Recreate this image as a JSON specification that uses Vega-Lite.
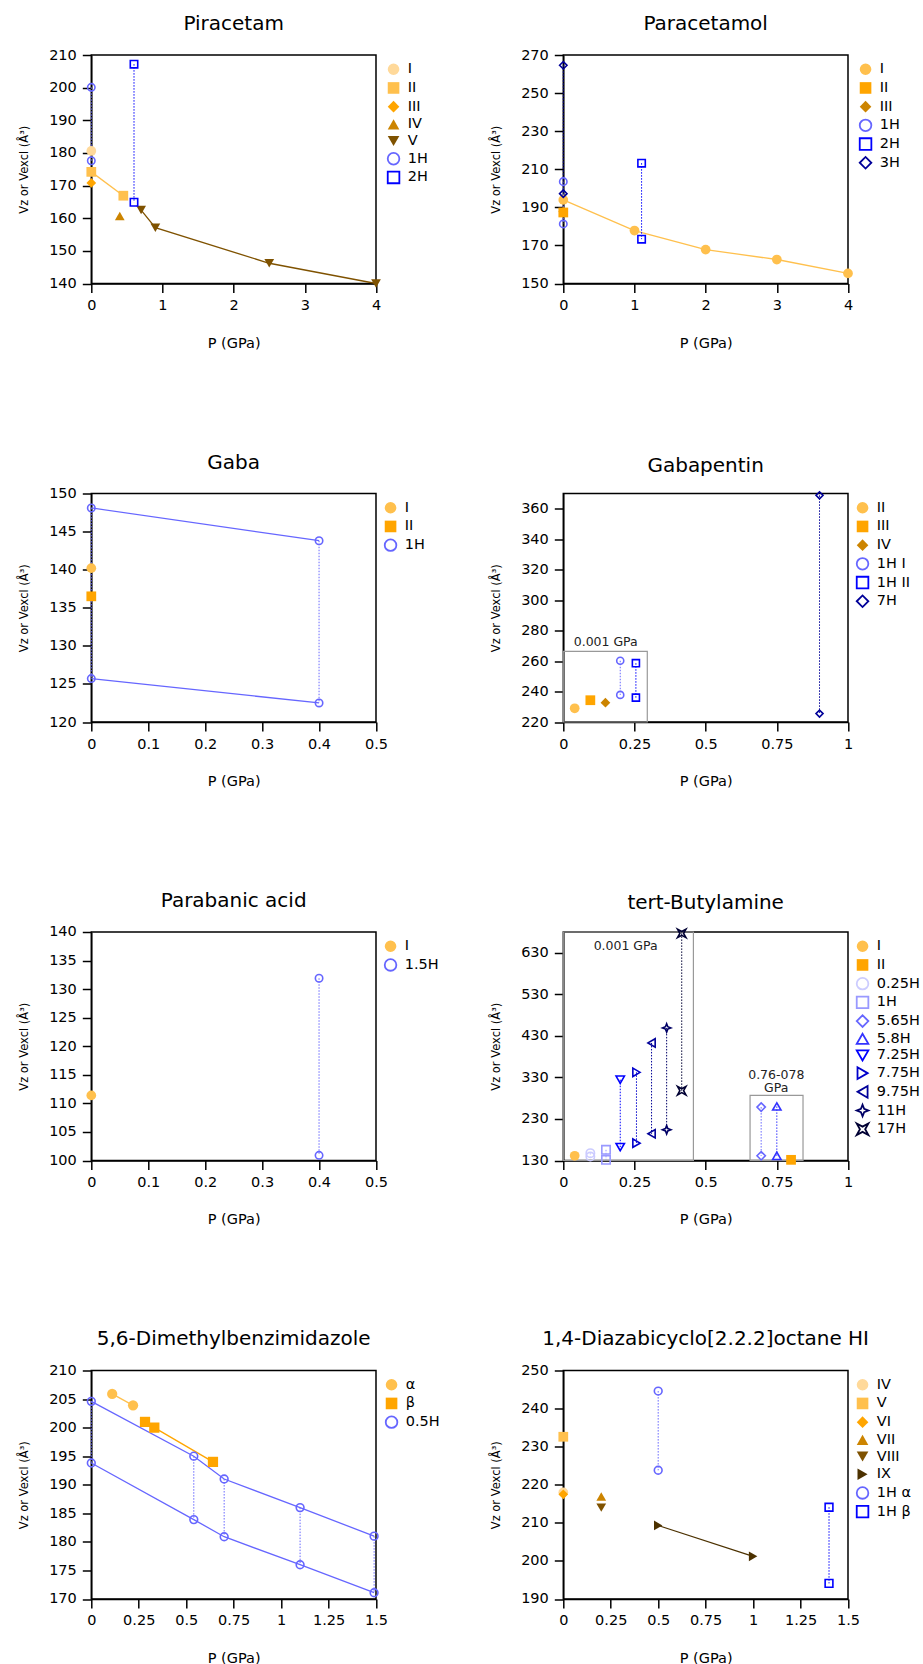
{
"$schema":"https://vega.github.io/schema/vega-lite/v6.json",
"background":"white",
"padding":{"left":17.3,"top":13,"right":2,"bottom":5},
"columns":2,
"bounds":"flush",
"spacing":{"row":209.5,"column":187},
"resolve":{"scale":{"x":"independent","y":"independent","color":"independent","fill":"independent","stroke":"independent","shape":"independent"},"legend":{"fill":"independent","stroke":"independent","shape":"independent"}},
"config":{
 "font":"DejaVu Sans",
 "view":{"stroke":"#000","strokeWidth":1.5},
 "title":{"fontSize":20,"fontWeight":"normal","color":"#000","offset":13},
 "axis":{"grid":false,"domainColor":"#000","domainWidth":1.5,"tickColor":"#000","tickWidth":1.5,"tickSize":9,"labelFontSize":14.5,"labelColor":"#000","labelPadding":6,"labelFlush":false,"labelOverlap":false,"titleFontWeight":"normal","titleColor":"#000","titleFontSize":14.5},
 "axisX":{"titlePadding":24},
 "axisY":{"titleFontSize":11.5,"titlePadding":19},
 "legend":{"orient":"right","offset":0,"padding":7,"labelFontSize":14.5,"labelColor":"#000","symbolSize":135,"symbolStrokeWidth":1.8,"rowPadding":-1.3,"labelOffset":7}
},
"datasets":{
 "pir":[
  {"s":"I","P":0,"V":180.6,"v":"z"},
  {"s":"II","P":0,"V":174.2,"v":"z"},
  {"s":"II","P":0.45,"V":166.9,"v":"z"},
  {"s":"III","P":0,"V":170.8,"v":"z"},
  {"s":"IV","P":0.4,"V":160.7,"v":"z"},
  {"s":"V","P":0.7,"V":162.5,"v":"z"},
  {"s":"V","P":0.9,"V":157.1,"v":"z"},
  {"s":"V","P":2.5,"V":146.2,"v":"z"},
  {"s":"V","P":4,"V":140,"v":"z"},
  {"s":"1H","P":0,"V":200.1,"v":"z"},
  {"s":"1H","P":0,"V":177.6,"v":"excl"},
  {"s":"2H","P":0.6,"V":207.2,"v":"z"},
  {"s":"2H","P":0.6,"V":164.9,"v":"excl"}
 ],
 "par":[
  {"s":"I","P":0,"V":193.9,"v":"z"},
  {"s":"I","P":1,"V":177.8,"v":"z"},
  {"s":"I","P":2,"V":167.8,"v":"z"},
  {"s":"I","P":3,"V":162.6,"v":"z"},
  {"s":"I","P":4,"V":155.3,"v":"z"},
  {"s":"III","P":0,"V":187.8,"v":"z"},
  {"s":"II","P":0,"V":187.3,"v":"z"},
  {"s":"1H","P":0,"V":203.5,"v":"z"},
  {"s":"1H","P":0,"V":181.3,"v":"excl"},
  {"s":"2H","P":1.1,"V":213.2,"v":"z"},
  {"s":"2H","P":1.1,"V":173.3,"v":"excl"},
  {"s":"3H","P":0,"V":264.6,"v":"z"},
  {"s":"3H","P":0,"V":197.2,"v":"excl"}
 ],
 "gaba":[
  {"s":"I","P":0,"V":140.2,"v":"z"},
  {"s":"II","P":0,"V":136.5,"v":"z"},
  {"s":"1H","P":0,"V":148.1,"v":"z"},
  {"s":"1H","P":0.4,"V":143.8,"v":"z"},
  {"s":"1H","P":0,"V":125.7,"v":"excl"},
  {"s":"1H","P":0.4,"V":122.5,"v":"excl"}
 ],
 "pen":[
  {"s":"II","P":0.04,"V":229,"v":"z"},
  {"s":"III","P":0.095,"V":234.3,"v":"z"},
  {"s":"IV","P":0.148,"V":232.7,"v":"z"},
  {"s":"1H I","P":0.2,"V":260.2,"v":"z"},
  {"s":"1H I","P":0.2,"V":237.8,"v":"excl"},
  {"s":"1H II","P":0.255,"V":258.6,"v":"z"},
  {"s":"1H II","P":0.255,"V":236,"v":"excl"},
  {"s":"7H","P":0.9,"V":368.8,"v":"z"},
  {"s":"7H","P":0.9,"V":225.5,"v":"excl"}
 ],
 "pen_box":[{"x1":0,"x2":0.295,"y1":220,"y2":266.3}],
 "pen_txt":[{"tx":0.149,"ty":269.6,"label":"0.001 GPa"}],
 "pba":[
  {"s":"I","P":0,"V":111.4,"v":"z"},
  {"s":"1.5H","P":0.4,"V":131.9,"v":"z"},
  {"s":"1.5H","P":0.4,"V":100.9,"v":"excl"}
 ],
 "tba":[
  {"s":"I","P":0.04,"V":141.3,"v":"z"},
  {"s":"II","P":0.8,"V":131.6,"v":"z"},
  {"s":"0.25H","P":0.095,"V":147.7,"v":"z"},
  {"s":"0.25H","P":0.095,"V":139.6,"v":"excl"},
  {"s":"1H","P":0.15,"V":155.7,"v":"z"},
  {"s":"1H","P":0.15,"V":131.6,"v":"excl"},
  {"s":"5.65H","P":0.695,"V":258.6,"v":"z"},
  {"s":"5.65H","P":0.695,"V":141.3,"v":"excl"},
  {"s":"5.8H","P":0.75,"V":260.2,"v":"z"},
  {"s":"5.8H","P":0.75,"V":141.3,"v":"excl"},
  {"s":"7.25H","P":0.2,"V":324.5,"v":"z"},
  {"s":"7.25H","P":0.2,"V":162.2,"v":"excl"},
  {"s":"7.75H","P":0.257,"V":342.2,"v":"z"},
  {"s":"7.75H","P":0.257,"V":171.8,"v":"excl"},
  {"s":"9.75H","P":0.31,"V":413,"v":"z"},
  {"s":"9.75H","P":0.31,"V":194.3,"v":"excl"},
  {"s":"11H","P":0.363,"V":449.1,"v":"z"},
  {"s":"11H","P":0.363,"V":204,"v":"excl"},
  {"s":"17H","P":0.416,"V":676.6,"v":"z"},
  {"s":"17H","P":0.416,"V":298,"v":"excl"}
 ],
 "tba_box":[{"x1":0,"x2":0.457,"y1":130,"y2":680},{"x1":0.656,"x2":0.842,"y1":130,"y2":286.8}],
 "tba_txt":[{"tx":0.219,"ty":636.4,"label":"0.001 GPa"},{"tx":0.748,"ty":326.1,"label":"0.76-078"},{"tx":0.748,"ty":295.6,"label":"GPa"}],
 "dmbi":[
  {"s":"α","P":0.11,"V":205.9,"v":"z"},
  {"s":"α","P":0.22,"V":203.9,"v":"z"},
  {"s":"β","P":0.283,"V":201,"v":"z"},
  {"s":"β","P":0.332,"V":200,"v":"z"},
  {"s":"β","P":0.641,"V":194,"v":"z"},
  {"s":"0.5H","P":0,"V":204.6,"v":"z"},
  {"s":"0.5H","P":0.54,"V":195,"v":"z"},
  {"s":"0.5H","P":0.7,"V":191,"v":"z"},
  {"s":"0.5H","P":1.1,"V":186,"v":"z"},
  {"s":"0.5H","P":1.49,"V":181,"v":"z"},
  {"s":"0.5H","P":0,"V":193.8,"v":"excl"},
  {"s":"0.5H","P":0.54,"V":183.9,"v":"excl"},
  {"s":"0.5H","P":0.7,"V":180.9,"v":"excl"},
  {"s":"0.5H","P":1.1,"V":176,"v":"excl"},
  {"s":"0.5H","P":1.49,"V":171.1,"v":"excl"}
 ],
 "dab":[
  {"s":"IV","P":0,"V":218,"v":"z"},
  {"s":"V","P":0,"V":232.6,"v":"z"},
  {"s":"VI","P":0,"V":217.5,"v":"z"},
  {"s":"VII","P":0.2,"V":216.9,"v":"z"},
  {"s":"VIII","P":0.2,"V":214,"v":"z"},
  {"s":"IX","P":0.5,"V":209.3,"v":"z"},
  {"s":"IX","P":1.0,"V":201.2,"v":"z"},
  {"s":"1H α","P":0.5,"V":244.6,"v":"z"},
  {"s":"1H α","P":0.5,"V":223.8,"v":"excl"},
  {"s":"1H β","P":1.4,"V":214.1,"v":"z"},
  {"s":"1H β","P":1.4,"V":194.1,"v":"excl"}
 ]
},
"concat":[
 {"title":"Piracetam","width":284.7,"height":228.5,"data":{"name":"pir"},
  "encoding":{
   "x":{"field":"P","type":"quantitative","title":"P (GPa)","scale":{"domain":[0,4],"nice":false,"zero":false},"axis":{"values":[0,1,2,3,4],"format":".3~g"}},
   "y":{"field":"V","type":"quantitative","title":"Vz or Vexcl (Å³)","scale":{"domain":[140,210],"nice":false,"zero":false},"axis":{"values":[140,150,160,170,180,190,200,210]}}},
  "layer":[
   {"mark":{"type":"line","strokeWidth":1.3},"encoding":{"color":{"field":"s","type":"nominal","scale":{"domain":["2H","1H","V","IV","III","II","I"],"range":["#0000FF","#6666FF","#7F5200","#CC8400","#FFA500","#FFC04D","#FFD99A"]},"legend":null},"detail":{"field":"v"}}},
   {"transform":[{"filter":"indexof(datum.s,'H')>=0"}],"mark":{"type":"line","strokeWidth":1,"strokeDash":[1.5,1.5]},"encoding":{"color":{"field":"s","type":"nominal","legend":null},"detail":{"field":"P","type":"quantitative"}}},
   {"transform":[{"filter":"indexof(datum.s,'H')<0"}],"mark":{"type":"point","filled":true,"opacity":1,"strokeWidth":1.6,"size":95},"encoding":{
    "fill":{"field":"s","type":"nominal","title":null,"scale":{"domain":["I","II","III","IV","V","1H","2H"],"range":["#FFD99A","#FFC04D","#FFA500","#CC8400","#7F5200","transparent","transparent"]}},
    "stroke":{"field":"s","type":"nominal","title":null,"scale":{"domain":["I","II","III","IV","V","1H","2H"],"range":["transparent","transparent","transparent","transparent","transparent","#6666FF","#0000FF"]}},
    "shape":{"field":"s","type":"nominal","title":null,"scale":{"domain":["I","II","III","IV","V","1H","2H"],"range":["circle","square","diamond","triangle-up","triangle-down","circle","square"]}}}},
   {"transform":[{"filter":"indexof(datum.s,'H')>=0"}],"mark":{"type":"point","filled":true,"opacity":1,"strokeWidth":1.6,"size":55},"encoding":{
    "fill":{"field":"s","type":"nominal","title":null},
    "stroke":{"field":"s","type":"nominal","title":null},
    "shape":{"field":"s","type":"nominal","title":null}}}
  ]},
 {"title":"Paracetamol","width":284.7,"height":228.5,"data":{"name":"par"},
  "encoding":{
   "x":{"field":"P","type":"quantitative","title":"P (GPa)","scale":{"domain":[0,4],"nice":false,"zero":false},"axis":{"values":[0,1,2,3,4],"format":".3~g"}},
   "y":{"field":"V","type":"quantitative","title":"Vz or Vexcl (Å³)","scale":{"domain":[150,270],"nice":false,"zero":false},"axis":{"values":[150,170,190,210,230,250,270]}}},
  "layer":[
   {"mark":{"type":"line","strokeWidth":1.3},"encoding":{"color":{"field":"s","type":"nominal","scale":{"domain":["3H","2H","1H","III","II","I"],"range":["#000099","#0000FF","#6666FF","#CC8400","#FFA500","#FFC04D"]},"legend":null},"detail":{"field":"v"}}},
   {"transform":[{"filter":"indexof(datum.s,'H')>=0"}],"mark":{"type":"line","strokeWidth":1,"strokeDash":[1.5,1.5]},"encoding":{"color":{"field":"s","type":"nominal","legend":null},"detail":{"field":"P","type":"quantitative"}}},
   {"transform":[{"filter":"indexof(datum.s,'H')<0"}],"mark":{"type":"point","filled":true,"opacity":1,"strokeWidth":1.6,"size":95},"encoding":{
    "fill":{"field":"s","type":"nominal","title":null,"scale":{"domain":["I","II","III","1H","2H","3H"],"range":["#FFC04D","#FFA500","#CC8400","transparent","transparent","transparent"]}},
    "stroke":{"field":"s","type":"nominal","title":null,"scale":{"domain":["I","II","III","1H","2H","3H"],"range":["transparent","transparent","transparent","#6666FF","#0000FF","#000099"]}},
    "shape":{"field":"s","type":"nominal","title":null,"scale":{"domain":["I","II","III","1H","2H","3H"],"range":["circle","square","diamond","circle","square","diamond"]}}}},
   {"transform":[{"filter":"indexof(datum.s,'H')>=0"}],"mark":{"type":"point","filled":true,"opacity":1,"strokeWidth":1.6,"size":55},"encoding":{
    "fill":{"field":"s","type":"nominal","title":null},
    "stroke":{"field":"s","type":"nominal","title":null},
    "shape":{"field":"s","type":"nominal","title":null}}}
  ]},
 {"title":"Gaba","width":284.7,"height":228.5,"data":{"name":"gaba"},
  "encoding":{
   "x":{"field":"P","type":"quantitative","title":"P (GPa)","scale":{"domain":[0,0.5],"nice":false,"zero":false},"axis":{"values":[0,0.1,0.2,0.3,0.4,0.5],"format":".3~g"}},
   "y":{"field":"V","type":"quantitative","title":"Vz or Vexcl (Å³)","scale":{"domain":[120,150],"nice":false,"zero":false},"axis":{"values":[120,125,130,135,140,145,150]}}},
  "layer":[
   {"mark":{"type":"line","strokeWidth":1.3},"encoding":{"color":{"field":"s","type":"nominal","scale":{"domain":["1H","II","I"],"range":["#6666FF","#FFA500","#FFC04D"]},"legend":null},"detail":{"field":"v"}}},
   {"transform":[{"filter":"indexof(datum.s,'H')>=0"}],"mark":{"type":"line","strokeWidth":1,"strokeDash":[1.5,1.5]},"encoding":{"color":{"field":"s","type":"nominal","legend":null},"detail":{"field":"P","type":"quantitative"}}},
   {"transform":[{"filter":"indexof(datum.s,'H')<0"}],"mark":{"type":"point","filled":true,"opacity":1,"strokeWidth":1.6,"size":95},"encoding":{
    "fill":{"field":"s","type":"nominal","title":null,"scale":{"domain":["I","II","1H"],"range":["#FFC04D","#FFA500","transparent"]}},
    "stroke":{"field":"s","type":"nominal","title":null,"scale":{"domain":["I","II","1H"],"range":["transparent","transparent","#6666FF"]}},
    "shape":{"field":"s","type":"nominal","title":null,"scale":{"domain":["I","II","1H"],"range":["circle","square","circle"]}}}},
   {"transform":[{"filter":"indexof(datum.s,'H')>=0"}],"mark":{"type":"point","filled":true,"opacity":1,"strokeWidth":1.6,"size":55},"encoding":{
    "fill":{"field":"s","type":"nominal","title":null},
    "stroke":{"field":"s","type":"nominal","title":null},
    "shape":{"field":"s","type":"nominal","title":null}}}
  ]},
 {"title":"Gabapentin","width":284.7,"height":228.5,"data":{"name":"pen"},
  "encoding":{
   "x":{"field":"P","type":"quantitative","title":"P (GPa)","scale":{"domain":[0,1],"nice":false,"zero":false},"axis":{"values":[0,0.25,0.5,0.75,1],"format":".3~g"}},
   "y":{"field":"V","type":"quantitative","title":"Vz or Vexcl (Å³)","scale":{"domain":[220,370],"nice":false,"zero":false},"axis":{"values":[220,240,260,280,300,320,340,360]}}},
  "layer":[
   {"data":{"name":"pen_box"},"mark":{"type":"rect","fillOpacity":0,"stroke":"#999999","strokeWidth":1.2},"encoding":{"x":{"field":"x1","type":"quantitative","title":"P (GPa)"},"x2":{"field":"x2"},"y":{"field":"y1","type":"quantitative","title":"Vz or Vexcl (Å³)"},"y2":{"field":"y2"}}},
   {"data":{"name":"pen_txt"},"mark":{"type":"text","fontSize":12.5,"align":"center","baseline":"alphabetic","color":"#222"},"encoding":{"x":{"field":"tx","type":"quantitative","title":"P (GPa)"},"y":{"field":"ty","type":"quantitative","title":"Vz or Vexcl (Å³)"},"text":{"field":"label"}}},
   {"mark":{"type":"line","strokeWidth":1.3},"encoding":{"color":{"field":"s","type":"nominal","scale":{"domain":["7H","1H II","1H I","IV","III","II"],"range":["#000099","#0000FF","#6666FF","#CC8400","#FFA500","#FFC04D"]},"legend":null},"detail":{"field":"v"}}},
   {"transform":[{"filter":"indexof(datum.s,'H')>=0"}],"mark":{"type":"line","strokeWidth":1,"strokeDash":[1.5,1.5]},"encoding":{"color":{"field":"s","type":"nominal","legend":null},"detail":{"field":"P","type":"quantitative"}}},
   {"transform":[{"filter":"indexof(datum.s,'H')<0"}],"mark":{"type":"point","filled":true,"opacity":1,"strokeWidth":1.6,"size":95},"encoding":{
    "fill":{"field":"s","type":"nominal","title":null,"scale":{"domain":["II","III","IV","1H I","1H II","7H"],"range":["#FFC04D","#FFA500","#CC8400","transparent","transparent","transparent"]}},
    "stroke":{"field":"s","type":"nominal","title":null,"scale":{"domain":["II","III","IV","1H I","1H II","7H"],"range":["transparent","transparent","transparent","#6666FF","#0000FF","#000099"]}},
    "shape":{"field":"s","type":"nominal","title":null,"scale":{"domain":["II","III","IV","1H I","1H II","7H"],"range":["circle","square","diamond","circle","square","diamond"]}}}},
   {"transform":[{"filter":"indexof(datum.s,'H')>=0"}],"mark":{"type":"point","filled":true,"opacity":1,"strokeWidth":1.6,"size":50},"encoding":{
    "fill":{"field":"s","type":"nominal","title":null},
    "stroke":{"field":"s","type":"nominal","title":null},
    "shape":{"field":"s","type":"nominal","title":null}}}
  ]},
 {"title":"Parabanic acid","width":284.7,"height":228.5,"data":{"name":"pba"},
  "encoding":{
   "x":{"field":"P","type":"quantitative","title":"P (GPa)","scale":{"domain":[0,0.5],"nice":false,"zero":false},"axis":{"values":[0,0.1,0.2,0.3,0.4,0.5],"format":".3~g"}},
   "y":{"field":"V","type":"quantitative","title":"Vz or Vexcl (Å³)","scale":{"domain":[100,140],"nice":false,"zero":false},"axis":{"values":[100,105,110,115,120,125,130,135,140]}}},
  "layer":[
   {"mark":{"type":"line","strokeWidth":1.3},"encoding":{"color":{"field":"s","type":"nominal","scale":{"domain":["1.5H","I"],"range":["#6666FF","#FFC04D"]},"legend":null},"detail":{"field":"v"}}},
   {"transform":[{"filter":"indexof(datum.s,'H')>=0"}],"mark":{"type":"line","strokeWidth":1,"strokeDash":[1.5,1.5]},"encoding":{"color":{"field":"s","type":"nominal","legend":null},"detail":{"field":"P","type":"quantitative"}}},
   {"transform":[{"filter":"indexof(datum.s,'H')<0"}],"mark":{"type":"point","filled":true,"opacity":1,"strokeWidth":1.6,"size":95},"encoding":{
    "fill":{"field":"s","type":"nominal","title":null,"scale":{"domain":["I","1.5H"],"range":["#FFC04D","transparent"]}},
    "stroke":{"field":"s","type":"nominal","title":null,"scale":{"domain":["I","1.5H"],"range":["transparent","#6666FF"]}},
    "shape":{"field":"s","type":"nominal","title":null,"scale":{"domain":["I","1.5H"],"range":["circle","circle"]}}}},
   {"transform":[{"filter":"indexof(datum.s,'H')>=0"}],"mark":{"type":"point","filled":true,"opacity":1,"strokeWidth":1.6,"size":55},"encoding":{
    "fill":{"field":"s","type":"nominal","title":null},
    "stroke":{"field":"s","type":"nominal","title":null},
    "shape":{"field":"s","type":"nominal","title":null}}}
  ]},
 {"title":"tert-Butylamine","width":284.7,"height":228.5,"data":{"name":"tba"},
  "encoding":{
   "x":{"field":"P","type":"quantitative","title":"P (GPa)","scale":{"domain":[0,1],"nice":false,"zero":false},"axis":{"values":[0,0.25,0.5,0.75,1],"format":".3~g"}},
   "y":{"field":"V","type":"quantitative","title":"Vz or Vexcl (Å³)","scale":{"domain":[130,680],"nice":false,"zero":false},"axis":{"values":[130,230,330,430,530,630]}}},
  "layer":[
   {"data":{"name":"tba_box"},"mark":{"type":"rect","fillOpacity":0,"stroke":"#999999","strokeWidth":1.2},"encoding":{"x":{"field":"x1","type":"quantitative","title":"P (GPa)"},"x2":{"field":"x2"},"y":{"field":"y1","type":"quantitative","title":"Vz or Vexcl (Å³)"},"y2":{"field":"y2"}}},
   {"data":{"name":"tba_txt"},"mark":{"type":"text","fontSize":12.5,"align":"center","baseline":"alphabetic","color":"#222"},"encoding":{"x":{"field":"tx","type":"quantitative","title":"P (GPa)"},"y":{"field":"ty","type":"quantitative","title":"Vz or Vexcl (Å³)"},"text":{"field":"label"}}},
   {"mark":{"type":"line","strokeWidth":1.3},"encoding":{"color":{"field":"s","type":"nominal","scale":{"domain":["17H","11H","9.75H","7.75H","7.25H","5.8H","5.65H","1H","0.25H","II","I"],"range":["#000033","#000066","#000099","#0000CC","#0000FF","#3333FF","#6666FF","#9999FF","#CCCCFF","#FFA500","#FFC04D"]},"legend":null},"detail":{"field":"v"}}},
   {"transform":[{"filter":"indexof(datum.s,'H')>=0"}],"mark":{"type":"line","strokeWidth":1,"strokeDash":[1.5,1.5]},"encoding":{"color":{"field":"s","type":"nominal","legend":null},"detail":{"field":"P","type":"quantitative"}}},
   {"transform":[{"filter":"indexof(datum.s,'H')<0"}],"mark":{"type":"point","filled":true,"opacity":1,"strokeWidth":1.6,"size":95},"encoding":{
    "fill":{"field":"s","type":"nominal","title":null,"scale":{"domain":["I","II","0.25H","1H","5.65H","5.8H","7.25H","7.75H","9.75H","11H","17H"],"range":["#FFC04D","#FFA500","transparent","transparent","transparent","transparent","transparent","transparent","transparent","transparent","transparent"]}},
    "stroke":{"field":"s","type":"nominal","title":null,"scale":{"domain":["I","II","0.25H","1H","5.65H","5.8H","7.25H","7.75H","9.75H","11H","17H"],"range":["transparent","transparent","#CCCCFF","#9999FF","#6666FF","#3333FF","#0000FF","#0000CC","#000099","#000066","#000033"]}},
    "shape":{"field":"s","type":"nominal","title":null,"scale":{"domain":["I","II","0.25H","1H","5.65H","5.8H","7.25H","7.75H","9.75H","11H","17H"],"range":["circle","square","circle","square","diamond","triangle-up","triangle-down","triangle-right","triangle-left","M0,-1L0.28,-0.28L1,0L0.28,0.28L0,1L-0.28,0.28L-1,0L-0.28,-0.28Z","M-1,-1L0,-0.45L1,-1L0.45,0L1,1L0,0.45L-1,1L-0.45,0Z"]}}}},
   {"transform":[{"filter":"indexof(datum.s,'H')>=0"}],"mark":{"type":"point","filled":true,"opacity":1,"strokeWidth":1.6,"size":70},"encoding":{
    "fill":{"field":"s","type":"nominal","title":null},
    "stroke":{"field":"s","type":"nominal","title":null},
    "shape":{"field":"s","type":"nominal","title":null}}}
  ]},
 {"title":"5,6-Dimethylbenzimidazole","width":284.7,"height":228.5,"data":{"name":"dmbi"},
  "encoding":{
   "x":{"field":"P","type":"quantitative","title":"P (GPa)","scale":{"domain":[0,1.5],"nice":false,"zero":false},"axis":{"values":[0,0.25,0.5,0.75,1,1.25,1.5],"format":".3~g"}},
   "y":{"field":"V","type":"quantitative","title":"Vz or Vexcl (Å³)","scale":{"domain":[170,210],"nice":false,"zero":false},"axis":{"values":[170,175,180,185,190,195,200,205,210]}}},
  "layer":[
   {"mark":{"type":"line","strokeWidth":1.3},"encoding":{"color":{"field":"s","type":"nominal","scale":{"domain":["0.5H","β","α"],"range":["#6666FF","#FFA500","#FFC04D"]},"legend":null},"detail":{"field":"v"}}},
   {"transform":[{"filter":"indexof(datum.s,'H')>=0"}],"mark":{"type":"line","strokeWidth":1,"strokeDash":[1.5,1.5]},"encoding":{"color":{"field":"s","type":"nominal","legend":null},"detail":{"field":"P","type":"quantitative"}}},
   {"transform":[{"filter":"indexof(datum.s,'H')<0"}],"mark":{"type":"point","filled":true,"opacity":1,"strokeWidth":1.6,"size":105},"encoding":{
    "fill":{"field":"s","type":"nominal","title":null,"scale":{"domain":["α","β","0.5H"],"range":["#FFC04D","#FFA500","transparent"]}},
    "stroke":{"field":"s","type":"nominal","title":null,"scale":{"domain":["α","β","0.5H"],"range":["transparent","transparent","#6666FF"]}},
    "shape":{"field":"s","type":"nominal","title":null,"scale":{"domain":["α","β","0.5H"],"range":["circle","square","circle"]}}}},
   {"transform":[{"filter":"indexof(datum.s,'H')>=0"}],"mark":{"type":"point","filled":true,"opacity":1,"strokeWidth":1.6,"size":60},"encoding":{
    "fill":{"field":"s","type":"nominal","title":null},
    "stroke":{"field":"s","type":"nominal","title":null},
    "shape":{"field":"s","type":"nominal","title":null}}}
  ]},
 {"title":"1,4-Diazabicyclo[2.2.2]octane HI","width":284.7,"height":228.5,"data":{"name":"dab"},
  "encoding":{
   "x":{"field":"P","type":"quantitative","title":"P (GPa)","scale":{"domain":[0,1.5],"nice":false,"zero":false},"axis":{"values":[0,0.25,0.5,0.75,1,1.25,1.5],"format":".3~g"}},
   "y":{"field":"V","type":"quantitative","title":"Vz or Vexcl (Å³)","scale":{"domain":[190,250],"nice":false,"zero":false},"axis":{"values":[190,200,210,220,230,240,250]}}},
  "layer":[
   {"mark":{"type":"line","strokeWidth":1.3},"encoding":{"color":{"field":"s","type":"nominal","scale":{"domain":["1H β","1H α","IX","VIII","VII","VI","V","IV"],"range":["#0000FF","#6666FF","#4C3100","#7F5200","#CC8400","#FFA500","#FFC04D","#FFD99A"]},"legend":null},"detail":{"field":"v"}}},
   {"transform":[{"filter":"indexof(datum.s,'H')>=0"}],"mark":{"type":"line","strokeWidth":1,"strokeDash":[1.5,1.5]},"encoding":{"color":{"field":"s","type":"nominal","legend":null},"detail":{"field":"P","type":"quantitative"}}},
   {"transform":[{"filter":"indexof(datum.s,'H')<0"}],"mark":{"type":"point","filled":true,"opacity":1,"strokeWidth":1.6,"size":95},"encoding":{
    "fill":{"field":"s","type":"nominal","title":null,"scale":{"domain":["IV","V","VI","VII","VIII","IX","1H α","1H β"],"range":["#FFD99A","#FFC04D","#FFA500","#CC8400","#7F5200","#4C3100","transparent","transparent"]}},
    "stroke":{"field":"s","type":"nominal","title":null,"scale":{"domain":["IV","V","VI","VII","VIII","IX","1H α","1H β"],"range":["transparent","transparent","transparent","transparent","transparent","transparent","#6666FF","#0000FF"]}},
    "shape":{"field":"s","type":"nominal","title":null,"scale":{"domain":["IV","V","VI","VII","VIII","IX","1H α","1H β"],"range":["circle","square","diamond","triangle-up","triangle-down","triangle-right","circle","square"]}}}},
   {"transform":[{"filter":"indexof(datum.s,'H')>=0"}],"mark":{"type":"point","filled":true,"opacity":1,"strokeWidth":1.6,"size":60},"encoding":{
    "fill":{"field":"s","type":"nominal","title":null},
    "stroke":{"field":"s","type":"nominal","title":null},
    "shape":{"field":"s","type":"nominal","title":null}}}
  ]}
]
}
